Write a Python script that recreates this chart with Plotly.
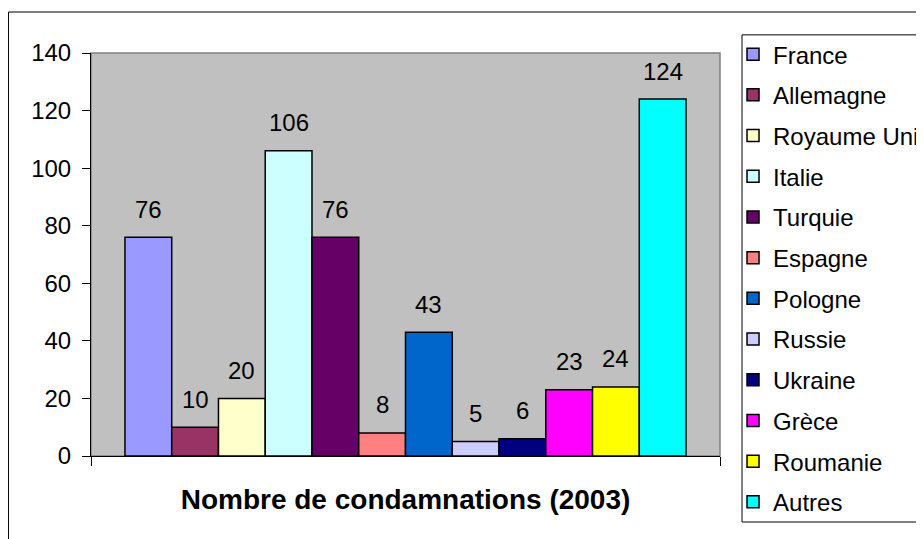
import plotly.graph_objects as go

pays = ["France", "Allemagne", "Royaume Uni", "Italie", "Turquie", "Espagne",
        "Pologne", "Russie", "Ukraine", "Grèce", "Roumanie", "Autres"]
condamnations = [76, 10, 20, 106, 76, 8, 43, 5, 6, 23, 24, 124]
couleurs = ["#9999FF", "#993366", "#FFFFCC", "#CCFFFF", "#660066", "#FF8080",
            "#0066CC", "#CCCCFF", "#000080", "#FF00FF", "#FFFF00", "#00FFFF"]
yticks = [0, 20, 40, 60, 80, 100, 120, 140]

font = "Liberation Sans, Arial, sans-serif"
bargap = 0.108
largeur = (1 - bargap) / len(pays)

fig = go.Figure()
annotations = []
for i, (nom, val, col) in enumerate(zip(pays, condamnations, couleurs)):
    fig.add_trace(go.Bar(
        x=[0], y=[val], name=nom, legendgroup=nom,
        marker=dict(color=col, line=dict(color="black", width=1.5)),
    ))
    # etiquette de donnee au-dessus de chaque barre
    annotations.append(dict(
        x=-0.5 + bargap / 2 + largeur * (i + 0.5), y=val, text=str(val),
        showarrow=False, yanchor="middle", yshift=28,
        font=dict(size=24, color="black", family=font),
    ))

# la page html ajoute une marge de 8 px autour de la figure
fig.update_layout(
    width=924, height=539,
    margin=dict(l=83, r=212, t=45, b=91, autoexpand=False),
    paper_bgcolor="white", plot_bgcolor="#C0C0C0",
    barmode="group", bargap=bargap, bargroupgap=0,
    font=dict(family=font, size=24, color="black"),
    showlegend=True,
    legend=dict(x=1.0207, y=1.052, xanchor="left", yanchor="top",
                borderwidth=0, bgcolor="rgba(0,0,0,0)", tracegroupgap=6.5,
                maxheight=530, font=dict(size=24), itemclick=False),
    xaxis=dict(range=[-0.5, 0.5], tickvals=[-0.5, 0.5], ticktext=["", ""],
               ticks="outside", ticklen=9, tickcolor="black", showgrid=False,
               showline=True, linecolor="black", linewidth=1, zeroline=False,
               title=dict(text="<b>Nombre de condamnations (2003)</b>",
                          font=dict(size=28), standoff=19)),
    yaxis=dict(range=[0, 140], tickvals=yticks, ticks="outside", ticklen=8,
               tickcolor="black", showgrid=False, showline=True,
               linecolor="black", linewidth=1, zeroline=False,
               tickfont=dict(size=24), ticklabelstandoff=6),
    annotations=annotations,
    shapes=[
        # bordure de la zone de tracé
        dict(type="rect", xref="paper", yref="paper", x0=0, x1=1, y0=0, y1=1,
             line=dict(color="#808080", width=1.5), layer="below"),
        # cadre du graphique
        dict(type="rect", xref="paper", yref="paper", x0=-0.1312, x1=1.6,
             y0=-0.4, y1=1.1017, line=dict(color="black", width=1)),
        # cadre de la légende
        dict(type="rect", xref="paper", yref="paper", x0=1.035, x1=1.6,
             y0=-0.1638, y1=1.045, line=dict(color="black", width=1)),
    ],
)

fig.write_html("out.html")
